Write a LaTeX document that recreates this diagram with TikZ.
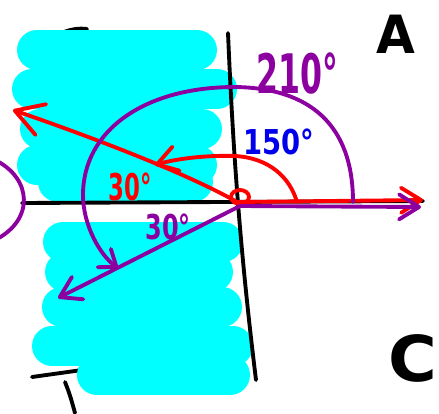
\documentclass[tikz,border=0pt]{standalone}
\usepackage{fontspec}
\setmainfont{DejaVu Sans}
\usetikzlibrary{arrows.meta}
\definecolor{sketchcyan}{RGB}{0,255,255}
\definecolor{sketchpurple}{RGB}{140,0,160}
\definecolor{sketchred}{RGB}{255,0,0}
\definecolor{sketchblue}{RGB}{0,0,235}

\begin{document}
\begin{tikzpicture}[x=0.02cm,y=-0.02cm,
    pen/.style={line width=2.2pt,line cap=round,line join=round},
    marker/.style={sketchcyan,line width=0.8cm,line cap=round},
    bigbarb/.style={-{Straight Barb[length=5.5mm,width=6.5mm,round]}},
    midbarb/.style={-{Straight Barb[length=4mm,width=5mm,round]}},
    smallbarb/.style={-{Straight Barb[length=3mm,width=4.5mm,round]}}]
  \useasboundingbox (0,0) rectangle (439,413);
  \clip (0,0) rectangle (439,413);
  \coordinate (O) at (237,202);
  \coordinate (Op) at (240,206);
  \coordinate (redtip) at (13,110);
  \coordinate (xtip) at (423,200);
  \coordinate (ptip) at (421,207);
  \coordinate (lowtip) at (58,298);
  \coordinate (arcR) at (297,202);
  \coordinate (arcRtip) at (155,165);
  \coordinate (arcP) at (353,202);
  \coordinate (arcPtop) at (235,87);
  \coordinate (arcPside) at (83,195);
  \coordinate (arcPtip) at (118,268);
  % strokes under the marker
  \draw[pen] (64,32) .. controls (72,29) and (80,28) .. (87,29);
  \draw[pen] (32,377) -- (82,370);
  \foreach \y/\xa/\xb in {50/37/197,89/32/217,129/40/202,165/37/197,182/58/193}
    \draw[marker] (\xa,\y) -- (\xb,\y);
  \foreach \y/\xa/\xb in {242/63/223,272/65/213,307/62/222,346/52/233,375/97/230}
    \draw[marker] (\xa,\y) -- (\xb,\y);
  % axes
  \draw[pen] (22,203) -- (423,201);
  \draw[pen] (228,33) .. controls (233,150) and (240,250) .. (256,380);
  \draw[pen] (65,382) .. controls (70,395) .. (75,413);
  % red
  \draw[pen,sketchred] (240,197) ellipse [x radius=0.18cm,y radius=0.14cm];
  \draw[pen,sketchred,bigbarb] (O) .. controls (190,175) and (100,140) .. (redtip);
  \draw[pen,sketchred,midbarb] (O) -- (xtip);
  \draw[pen,sketchred,midbarb] (arcR) .. controls (290,178) and (270,158) .. (235,156)
    .. controls (205,155) and (175,159) .. (arcRtip);
  % purple
  \draw[pen,sketchpurple,midbarb] (Op) -- (ptip);
  \draw[pen,sketchpurple,midbarb] (Op) -- (lowtip);
  \draw[pen,sketchpurple,smallbarb] (arcP) .. controls (353,125) and (310,88) .. (arcPtop)
    .. controls (145,87) and (83,130) .. (arcPside)
    .. controls (83,225) and (100,255) .. (arcPtip);
  \draw[pen,sketchpurple] (-5,160) .. controls (32,178) and (35,220) .. (-5,240);
  % labels
  \node[sketchpurple,font=\bfseries\fontsize{31}{31}\selectfont,xscale=0.58] (l210) at (297,73) {210°};
  \node[sketchblue,font=\bfseries\fontsize{19.5}{19.5}\selectfont,xscale=0.8] (l150) at (279,142) {150°};
  \node[sketchred,font=\bfseries\fontsize{21}{21}\selectfont,xscale=0.62] (l30r) at (130,187) {30°};
  \node[sketchpurple,font=\bfseries\fontsize{19.5}{19.5}\selectfont,xscale=0.7] (l30p) at (168,227) {30°};
  \node[font=\bfseries\fontsize{30}{30}\selectfont,xscale=0.95] (lA) at (396,34) {A};
  \node[font=\bfseries\fontsize{36}{36}\selectfont,xscale=1.05] (lC) at (413,358) {C};
\end{tikzpicture}
\end{document}
